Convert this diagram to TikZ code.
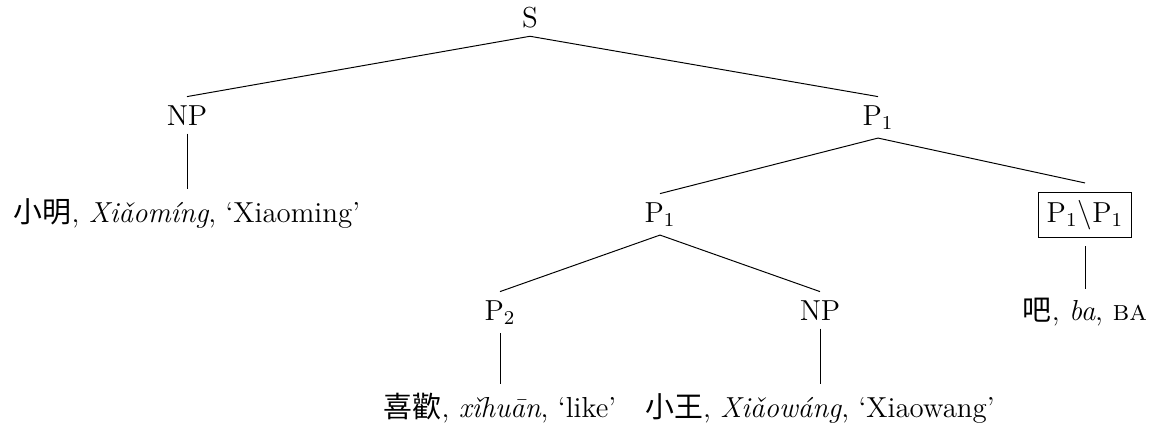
\documentclass[tikz,border=0pt]{standalone}
\usepackage{fontspec}
\newfontfamily\cjk{Noto Sans CJK TC}
\begin{document}
\begin{tikzpicture}[x=0.408pt,y=-0.408pt,
  lab/.style={anchor=base,inner sep=3.33pt,font=\fontsize{11.8}{14}\selectfont},
  edge/.style={draw=black,line width=0.4pt}]
\useasboundingbox (0,0) rectangle (1149,424);
\node[lab] (S) at (530,27) {S};
\node[lab] (NPa) at (187,125) {NP};
\node[lab] (P1a) at (878,125) {P$_1$};
\node[lab] (La) at (187,222) {{\cjk 小明}, \textit{Xiǎomíng}, ‘Xiaoming’};
\node[lab] (P1b) at (660,222) {P$_1$};
\node[lab] (Box) at (1085,222) {\fbox{P$_1\backslash$P$_1$}};
\node[lab] (P2) at (500,320) {P$_2$};
\node[lab] (NPb) at (820,320) {NP};
\node[lab] (Lba) at (1085,320) {{\cjk 吧}, \textit{ba}, \textsc{ba}};
\node[lab] (Lxh) at (500,417) {{\cjk 喜歡}, \textit{xǐhuān}, ‘like’};
\node[lab] (Lxw) at (820,417) {{\cjk 小王}, \textit{Xiǎowáng}, ‘Xiaowang’};
\draw[edge] (S.south) -- (NPa.north);
\draw[edge] (S.south) -- (P1a.north);
\draw[edge] (NPa.south) -- (La.north);
\draw[edge] (P1a.south) -- (P1b.north);
\draw[edge] (P1a.south) -- (Box.north);
\draw[edge] (P1b.south) -- (P2.north);
\draw[edge] (P1b.south) -- (NPb.north);
\draw[edge] (Box.south) -- (Lba.north);
\draw[edge] (P2.south) -- (Lxh.north);
\draw[edge] (NPb.south) -- (Lxw.north);
\end{tikzpicture}
\end{document}
